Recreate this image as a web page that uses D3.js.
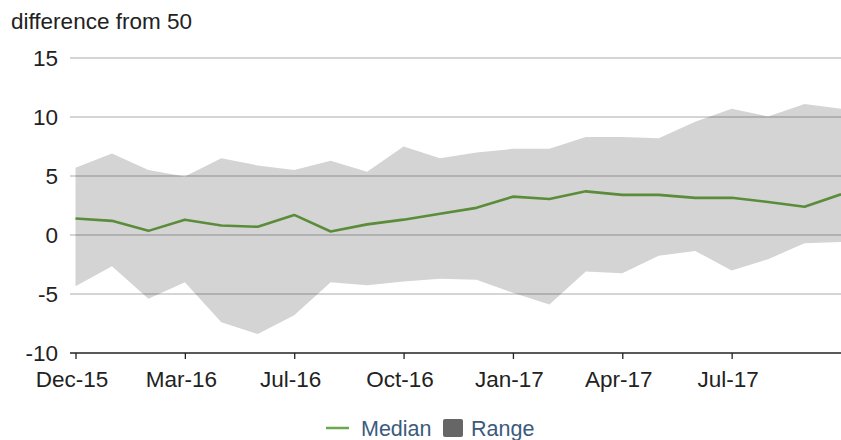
<!DOCTYPE html>
<html>
<head>
<meta charset="utf-8">
<script src="https://cdn.jsdelivr.net/npm/d3@7/dist/d3.min.js"></script>
<style>
  body { margin: 0; background: #fff; }
  svg { display: block; font-family: "Liberation Sans", Arial, sans-serif; }
  .ylab, .xlab, .title { fill: #222; font-size: 22.5px; }
  .leg { fill: #3b5b7d; font-size: 21.5px; }
</style>
</head>
<body>
<svg id="chart" width="841" height="440"></svg>
<script>
// one point per period, tick label on every third
const periods = d3.range(22);
const tickLabels = ["Dec-15", "Mar-16", "Jul-16", "Oct-16", "Jan-17", "Apr-17", "Jul-17"];
const median = [1.4, 1.2, 0.35, 1.3, 0.8, 0.7, 1.7, 0.3, 0.9, 1.3, 1.8, 2.3,
                3.25, 3.05, 3.7, 3.4, 3.4, 3.15, 3.15, 2.8, 2.4, 3.45];
const upper = [5.7, 6.9, 5.5, 4.95, 6.5, 5.9, 5.5, 6.3, 5.35, 7.5, 6.5, 7.0,
               7.3, 7.3, 8.3, 8.3, 8.2, 9.6, 10.7, 10.05, 11.1, 10.7];
const lower = [-4.35, -2.65, -5.4, -4.0, -7.4, -8.4, -6.8, -4.0, -4.25, -3.95, -3.7, -3.8,
               -4.9, -5.9, -3.1, -3.25, -1.75, -1.35, -3.0, -2.05, -0.7, -0.6];
const yTicks = [-10, -5, 0, 5, 10, 15];

const svg = d3.select("#chart");

const x = d3.scaleLinear().domain([0, periods.length - 1]).range([75.5, 841]);
const y = d3.scaleLinear().domain([-10, 15]).range([353, 58]);

// title
svg.append("text").attr("class", "title")
    .attr("x", 11).attr("y", 29)
    .text("difference from 50");

// range band
const area = d3.area()
    .x(d => x(d))
    .y0(d => y(lower[d]))
    .y1(d => y(upper[d]));
svg.append("path")
    .datum(periods)
    .attr("d", area)
    .attr("fill", "#d4d4d4");

// grid lines (drawn over the band, semi transparent)
svg.append("g").selectAll("line")
    .data(yTicks.filter(v => v !== -10))
    .join("line")
    .attr("x1", 70).attr("x2", 841)
    .attr("y1", d => y(d)).attr("y2", d => y(d))
    .attr("stroke", "#000")
    .attr("stroke-opacity", 0.22)
    .attr("stroke-width", 1.3);

// y labels
svg.append("g").selectAll("text")
    .data(yTicks)
    .join("text")
    .attr("class", "ylab")
    .attr("x", 58)
    .attr("y", d => y(d) + 8)
    .attr("text-anchor", "end")
    .text(d => d);

// x axis
const tickIdx = tickLabels.map((t, i) => i * 3);
const xAxis = d3.axisBottom(x)
    .tickValues(tickIdx)
    .tickSize(6)
    .tickFormat((d, i) => tickLabels[i]);
const gx = svg.append("g")
    .attr("transform", "translate(0,353)")
    .call(xAxis);
gx.select(".domain").attr("d", "M70,0H841").attr("stroke", "#222").attr("stroke-width", 1.5);
gx.selectAll(".tick line").attr("stroke", "#222").attr("stroke-width", 1.3);
gx.selectAll(".tick text")
    .attr("class", "xlab")
    .attr("font-family", null).attr("font-size", null)
    .attr("y", 18).attr("dy", "0.71em")
    .attr("dx", -4)
    .style("fill", "#222");

// median line
const line = d3.line()
    .x(d => x(d))
    .y(d => y(median[d]));
svg.append("path")
    .datum(periods)
    .attr("d", line)
    .attr("fill", "none")
    .attr("stroke", "#5a8c3a")
    .attr("stroke-width", 2.6)
    .attr("stroke-linejoin", "round");

// legend
const leg = svg.append("g").attr("transform", "translate(0,428)");
leg.append("line")
    .attr("x1", 326).attr("x2", 349).attr("y1", 0).attr("y2", 0)
    .attr("stroke", "#6aa84f").attr("stroke-width", 2.5);
leg.append("text").attr("class", "leg")
    .attr("x", 361).attr("y", 7.5).text("Median");
leg.append("rect")
    .attr("x", 443).attr("y", -9).attr("width", 20).attr("height", 18)
    .attr("rx", 2)
    .attr("fill", "#666");
leg.append("text").attr("class", "leg")
    .attr("x", 471).attr("y", 7.5).text("Range");
</script>
</body>
</html>
